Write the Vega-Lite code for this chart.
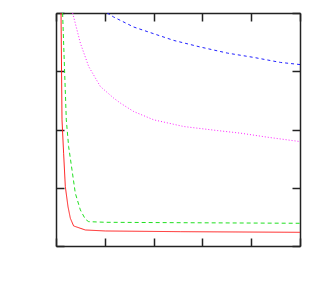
{
  "$schema": "https://vega.github.io/schema/vega-lite/v6.json",
  "width": 244,
  "height": 233,
  "autosize": "none",
  "padding": {"left": 56, "top": 13, "right": 20, "bottom": 42},
  "background": "white",
  "config": {"view": {"stroke": null}},
  "data": {"values": [
    {"s": "a", "x": 0.103, "y": 4.0},
    {"s": "a", "x": 0.123, "y": 2.166},
    {"s": "a", "x": 0.156, "y": 1.593},
    {"s": "a", "x": 0.191, "y": 1.019},
    {"s": "a", "x": 0.246, "y": 0.675},
    {"s": "a", "x": 0.294, "y": 0.476},
    {"s": "a", "x": 0.361, "y": 0.344},
    {"s": "a", "x": 0.601, "y": 0.275},
    {"s": "a", "x": 1.012, "y": 0.258},
    {"s": "a", "x": 2.552, "y": 0.246},
    {"s": "a", "x": 5.0, "y": 0.235},
    {"s": "b", "x": 0.135, "y": 4.0},
    {"s": "b", "x": 0.211, "y": 2.166},
    {"s": "b", "x": 0.259, "y": 1.707},
    {"s": "b", "x": 0.328, "y": 1.306},
    {"s": "b", "x": 0.396, "y": 0.906},
    {"s": "b", "x": 0.499, "y": 0.619},
    {"s": "b", "x": 0.602, "y": 0.459},
    {"s": "b", "x": 0.669, "y": 0.418},
    {"s": "b", "x": 1.012, "y": 0.407},
    {"s": "b", "x": 2.552, "y": 0.4},
    {"s": "b", "x": 5.0, "y": 0.39},
    {"s": "c", "x": 1.047, "y": 4.0},
    {"s": "c", "x": 1.182, "y": 3.931},
    {"s": "c", "x": 1.593, "y": 3.759},
    {"s": "c", "x": 2.003, "y": 3.644},
    {"s": "c", "x": 2.414, "y": 3.529},
    {"s": "c", "x": 2.962, "y": 3.415},
    {"s": "c", "x": 3.51, "y": 3.312},
    {"s": "c", "x": 4.056, "y": 3.237},
    {"s": "c", "x": 4.604, "y": 3.151},
    {"s": "c", "x": 5.0, "y": 3.115},
    {"s": "d", "x": 0.341, "y": 4.0},
    {"s": "d", "x": 0.499, "y": 3.484},
    {"s": "d", "x": 0.669, "y": 3.082},
    {"s": "d", "x": 0.909, "y": 2.738},
    {"s": "d", "x": 1.182, "y": 2.539},
    {"s": "d", "x": 1.32, "y": 2.453},
    {"s": "d", "x": 1.593, "y": 2.308},
    {"s": "d", "x": 2.003, "y": 2.166},
    {"s": "d", "x": 2.619, "y": 2.051},
    {"s": "d", "x": 3.305, "y": 1.982},
    {"s": "d", "x": 3.783, "y": 1.937},
    {"s": "d", "x": 4.331, "y": 1.868},
    {"s": "d", "x": 5.0, "y": 1.793}
  ]},
  "layer": [
    {
      "mark": {"type": "line", "strokeWidth": 1, "clip": true},
      "encoding": {
        "x": {"field": "x", "type": "quantitative", "scale": {"domain": [0, 5], "nice": false, "zero": false},
          "axis": {"orient": "bottom", "title": null, "labels": false, "grid": false, "values": [0, 1, 2, 3, 4, 5], "tickSize": -8, "tickColor": "#222", "tickWidth": 1.5, "domainColor": "#222", "domainWidth": 1.5}},
        "y": {"field": "y", "type": "quantitative", "scale": {"domain": [0, 4], "nice": false, "zero": false},
          "axis": {"orient": "left", "title": null, "labels": false, "grid": false, "values": [0, 1, 2, 3, 4], "tickSize": -8, "tickColor": "#222", "tickWidth": 1.5, "domainColor": "#222", "domainWidth": 1.5}},
        "color": {"field": "s", "type": "nominal", "legend": null, "scale": {"domain": ["a", "b", "c", "d"], "range": ["#ff2020", "#20e020", "#2020ff", "#ff20ff"]}},
        "strokeDash": {"field": "s", "type": "nominal", "legend": null, "scale": {"domain": ["a", "b", "c", "d"], "range": [[1, 0], [4, 3], [3, 3], [1, 2]]}}
      }
    },
    {
      "mark": {"type": "point", "opacity": 0},
      "encoding": {
        "x": {"field": "x", "type": "quantitative",
          "axis": {"orient": "top", "title": null, "labels": false, "grid": false, "values": [0, 1, 2, 3, 4, 5], "tickSize": -8, "tickColor": "#222", "tickWidth": 1.5, "domainColor": "#222", "domainWidth": 1.5}},
        "y": {"field": "y", "type": "quantitative",
          "axis": {"orient": "right", "title": null, "labels": false, "grid": false, "values": [0, 1, 2, 3, 4], "tickSize": -8, "tickColor": "#222", "tickWidth": 1.5, "domainColor": "#222", "domainWidth": 1.5}}
      }
    }
  ],
  "resolve": {"axis": {"x": "independent", "y": "independent"}}
}
